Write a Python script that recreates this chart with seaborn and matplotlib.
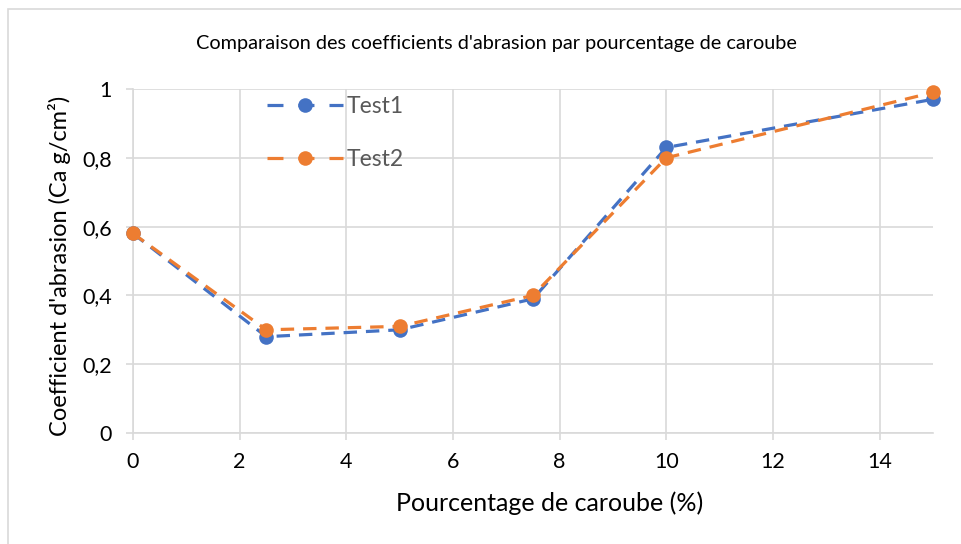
import matplotlib
matplotlib.use("Agg")
import matplotlib.pyplot as plt
from matplotlib.patches import Rectangle
from matplotlib.lines import Line2D
import seaborn as sns
import pandas as pd

# ---- data ----
pourcentage = [0, 2.5, 5, 7.5, 10, 15]
test1 = [0.58, 0.28, 0.30, 0.39, 0.83, 0.97]
test2 = [0.58, 0.30, 0.31, 0.40, 0.80, 0.99]
series_names = ["Test1", "Test2"]
x_ticks = [0, 2, 4, 6, 8, 10, 12, 14]
y_ticks = [0, 0.2, 0.4, 0.6, 0.8, 1.0]
y_tick_labels = ["0", "0,2", "0,4", "0,6", "0,8", "1"]
title = "Comparaison des coefficients d'abrasion par pourcentage de caroube"
xlabel = "Pourcentage de caroube (%)"
ylabel = "Coefficient d'abrasion (Ca g/cm²)"

colors = {"Test1": "#4472C4", "Test2": "#ED7D31"}

df = pd.DataFrame({
    "x": pourcentage * 2,
    "y": test1 + test2,
    "serie": ["Test1"] * len(pourcentage) + ["Test2"] * len(pourcentage),
})

sns.set_theme(style="white")
plt.rcParams["font.family"] = ["Lato", "DejaVu Sans"]

fig = plt.figure(figsize=(9.61, 5.44), dpi=100)
ax = fig.add_axes([133 / 961, 1 - 433 / 544, 800 / 961, 344 / 544])

# outer chart frame
fig.patches.append(Rectangle((8 / 961, -0.2), 2.0, 1.2 - 9 / 544, transform=fig.transFigure,
                             fill=False, edgecolor="#d9d9d9", linewidth=1.2))

lw = 2.3
for k, name in enumerate(series_names):
    sub = df[df["serie"] == name]
    sns.lineplot(data=sub, x="x", y="y", color=colors[name], linewidth=lw,
                 linestyle=(0, (4.2, 2.8)), marker="o", markersize=10.5,
                 markeredgewidth=0, ax=ax, zorder=3 + k, clip_on=False,
                 legend=False, sort=False)

ax.set_xlim(0, 15)
ax.set_ylim(0, 1)
ax.set_xticks(x_ticks)
ax.set_xticklabels([str(t) for t in x_ticks])
ax.set_yticks(y_ticks)
ax.set_yticklabels(y_tick_labels)

grid_c = "#d9d9d9"
ax.grid(True, color=grid_c, linewidth=1.2)
ax.set_axisbelow(True)
for s in ["top", "right"]:
    ax.spines[s].set_visible(False)
for s in ["left", "bottom"]:
    ax.spines[s].set_color(grid_c)
    ax.spines[s].set_linewidth(1.2)
ax.tick_params(axis="both", which="both", length=5, width=1.2, color=grid_c,
               labelsize=15.5, labelcolor="#000000", direction="out")
ax.tick_params(axis="y", pad=10)
ax.tick_params(axis="x", pad=9)
ax.tick_params(left=True, bottom=True)

ax.set_xlabel(xlabel, fontsize=18, color="#000000")
ax.xaxis.set_label_coords((549.5 - 133) / 800, -(503 - 433) / 344)
ax.xaxis.label.set_va("center")
ax.set_ylabel(ylabel, fontsize=17, color="#000000")
ax.yaxis.set_label_coords(-(133 - 60) / 800, (433 - 266) / 344)
ax.yaxis.label.set_va("center")
fig.text(496.5 / 961, 1 - 44 / 544, title, ha="center", va="center", fontsize=14.3,
         color="#000000")

handles = [Line2D([], [], color=colors[n], linewidth=lw, linestyle=(0, (5, 4.7)),
                  marker="o", markersize=10.5, markeredgewidth=0) for n in series_names]
leg = ax.legend(handles, series_names, loc="upper left", bbox_to_anchor=(0.142, 1.04),
                frameon=False, fontsize=16.5, handlelength=3.3, labelspacing=1.4,
                handletextpad=0.15, labelcolor="#595959")

fig.savefig("out.png", dpi=100)
